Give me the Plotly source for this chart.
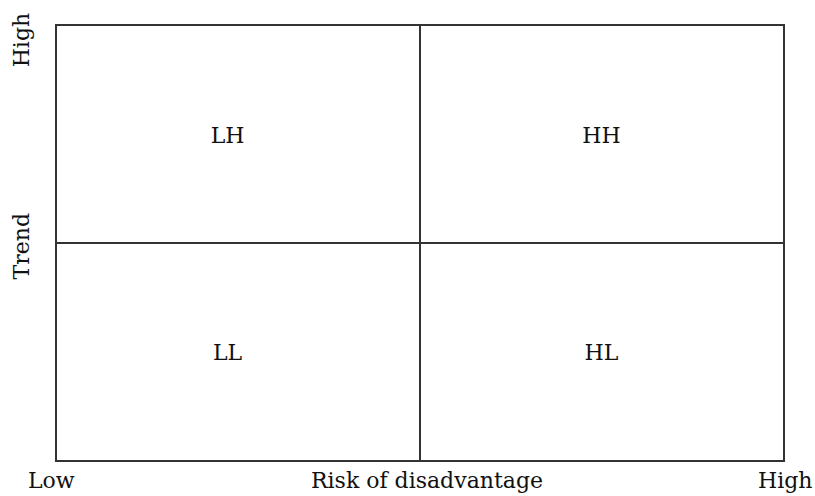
import plotly.graph_objects as go

# Quadrant labels and positions (data coordinates, range 0..2)
quad_labels = ["LH", "HH", "LL", "HL"]
quad_x = [0.47, 1.5, 0.47, 1.5]
quad_y = [1.486, 1.486, 0.486, 0.486]

# Divider lines
divider_x = [1, 1]
divider_y = [0, 2]

# Axis labels
x_labels = ["Low", "Risk of disadvantage", "High"]
x_label_pos = [-0.007, 0.5096, 1.003]
y_labels = ["High", "Trend"]
y_label_pos = [0.968, 0.493]

FONT = "DejaVu Serif"
INK = "#111111"
LINE = "#333333"

fig = go.Figure()

fig.add_trace(go.Scatter(x=divider_x, y=divider_y, mode="lines",
                         line=dict(color=LINE, width=2), hoverinfo="skip"))
fig.add_trace(go.Scatter(x=divider_y, y=divider_x, mode="lines",
                         line=dict(color=LINE, width=2), hoverinfo="skip"))
fig.add_trace(go.Scatter(x=quad_x, y=quad_y, mode="text", text=quad_labels,
                         textfont=dict(family=FONT, size=22, color=INK),
                         hoverinfo="skip"))

for t, p in zip(x_labels, x_label_pos):
    fig.add_annotation(text=t, x=p, y=-0.048, xref="paper", yref="paper",
                       showarrow=False, xanchor="center", yanchor="middle",
                       font=dict(family=FONT, size=22, color=INK))
for t, p in zip(y_labels, y_label_pos):
    fig.add_annotation(text=t, x=-0.049, y=p, xref="paper", yref="paper",
                       showarrow=False, xanchor="center", yanchor="middle",
                       textangle=-90,
                       font=dict(family=FONT, size=22, color=INK))

fig.update_xaxes(range=[0, 2], showgrid=False, zeroline=False, showticklabels=False,
                 ticks="", showline=True, linecolor=LINE, linewidth=2, mirror=True)
fig.update_yaxes(range=[0, 2], showgrid=False, zeroline=False, showticklabels=False,
                 ticks="", showline=True, linecolor=LINE, linewidth=2, mirror=True)

fig.update_layout(width=815, height=496, showlegend=False,
                  margin=dict(l=57, r=32, t=26, b=36),
                  plot_bgcolor="white", paper_bgcolor="white")

fig.write_html("out.html", config={"displayModeBar": False},
               post_script="document.body.style.margin='0';document.body.style.overflow='hidden';")
